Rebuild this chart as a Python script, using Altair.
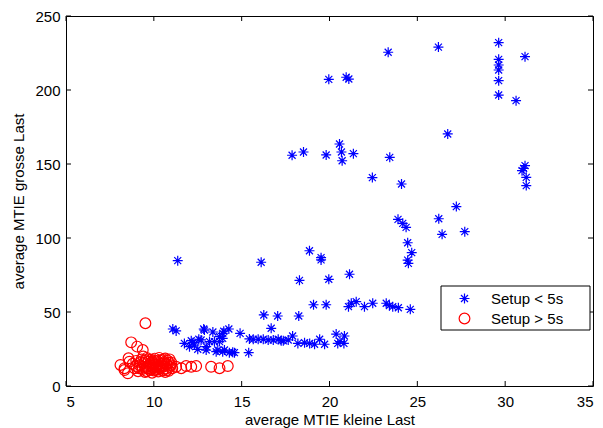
import altair as alt
import pandas as pd

# Setup < 5s (blue asterisks)
blue_x = [29.63, 31.13, 29.63, 29.63, 29.63, 29.63, 29.63, 30.62, 23.34, 26.2,
          19.96, 20.95, 21.1, 26.73, 17.87, 18.52, 19.81, 20.57, 20.68, 20.72,
          21.36, 23.43, 22.44, 24.1, 31.13, 30.96, 31.05, 31.2, 31.2, 27.22,
          26.22, 23.9, 24.17, 24.36, 26.41, 27.7, 24.45, 24.68, 24.49, 24.45,
          18.86, 19.52, 19.52,
          11.36, 16.11, 18.29, 19.96, 21.14, 19.09, 19.81, 21.08, 21.24, 21.52,
          21.99, 22.46, 23.23, 23.41, 23.6, 23.92, 24.6, 16.26, 17.05, 18.25,
          11.08, 11.27, 12.84, 12.88, 13.36, 13.92, 13.98, 14.27, 14.91, 16.68,
          11.74, 12.13, 12.22, 12.56, 12.69, 13.17, 13.45, 13.74, 13.92, 13.74,
          12.03, 12.31, 12.5, 12.98, 12.98, 13.55, 13.64, 13.92, 14.02, 14.3,
          14.49, 14.59, 15.4,
          15.44, 15.66, 15.94, 16.23, 16.51, 16.8, 17.08, 17.25, 17.37, 17.65,
          17.9, 18.2, 18.58, 18.87, 19.15, 19.44, 19.72, 20.38, 20.85, 20.47,
          20.82, 20.6]
blue_y = [232, 222.5, 220.7, 216.9, 213.5, 206.3, 196.6, 192.8, 225.5, 229,
          207.2, 208.6, 207.4, 170.3, 155.9, 158.1, 156.1, 163.5, 158.1, 152.2,
          157, 154.5, 140.8, 136.5, 148.9, 145.5, 147, 141, 135.4, 121.2,
          113, 112.6, 109.9, 107.2, 102.5, 104.3, 96.8, 90.1, 82.9, 85,
          91.4, 86.7, 85.2,
          84.7, 83.6, 71.4, 72.1, 75.5, 54.9, 54.9, 53.6, 55.9, 57,
          53.6, 55.9, 55.9, 54.3, 53.6, 52.9, 51.8, 48, 47.3, 47.3,
          38.5, 37.2, 38.5, 37.8, 36.5, 35.6, 37, 38.5, 35.6, 39,
          28.8, 30.6, 29.3, 31.6, 31.1, 30, 30, 30, 32.2, 33.3,
          26.6, 27.7, 24.8, 24.3, 26.6, 23.2, 24.3, 23.2, 24.3, 22.5,
          22.8, 22.5, 22.5,
          31.8, 31.6, 31.6, 31.6, 31.1, 31.1, 31.6, 30.6, 30.6, 31.1,
          33.8, 28.8, 29.2, 28.8, 28.2, 31.6, 28.2, 35.1, 33.8, 28.8,
          28.8, 30]

# Setup > 5s (red circles)
red_x = [9.52, 8.71, 9.05, 8.56, 8.1, 8.33, 8.33, 8.52, 8.61, 9.37,
         8.8, 8.9, 9.0, 9.1, 9.2, 9.3, 9.35, 9.45, 9.5, 9.55,
         9.6, 9.7, 9.75, 9.8, 9.85, 9.9, 9.95, 10.0, 10.05, 10.1,
         10.15, 10.2, 10.25, 10.3, 10.35, 10.4, 10.45, 10.5, 10.55, 10.6,
         10.65, 10.7, 10.75, 10.8, 10.85, 10.9, 11.0, 11.05, 9.4, 9.0,
         10.0, 10.9,
         9.25, 9.5, 9.65, 9.9, 10.1, 10.3, 10.5, 10.7, 10.95, 9.35,
         9.6, 9.85, 10.05, 10.25, 10.45, 10.65, 10.85, 9.15, 9.7, 10.35,
         10.55, 9.95, 10.15, 10.75,
         11.27, 11.56, 11.84, 12.13, 12.41, 13.26, 13.74, 14.21]
red_y = [42.4, 29.5, 26.6, 18.7, 14.2, 10.8, 12, 8.6, 16.4, 24.3,
         15, 12, 17, 10, 14, 18, 11.5, 15.5, 9.5, 13,
         19, 16.5, 11, 14, 17.8, 9, 12.5, 15.5, 18.5, 11,
         13.8, 16.8, 9.8, 19, 12.2, 15, 17.5, 10.5, 13.5, 16,
         18.6, 11.8, 14.5, 17, 10.2, 13, 15.8, 12, 20, 13.5,
         10.5, 18,
         16, 17, 12, 16.2, 14.5, 17.5, 12.8, 15.2, 14, 13,
         10, 11.5, 17, 11.2, 14, 9.5, 15.8, 12, 18, 13.2,
         18, 14.8, 12.5, 10.8,
         13, 12, 13.5, 13, 13.5, 13, 12, 13.5]

series = ["Setup < 5s", "Setup > 5s"]
colors = ["#0000ff", "#ff0000"]
x_ticks = [5, 10, 15, 20, 25, 30, 35]
y_ticks = [0, 50, 100, 150, 200, 250]

ASTERISK = "M-1,0L1,0M0,-1L0,1M-0.7,-0.7L0.7,0.7M-0.7,0.7L0.7,-0.7"

df = pd.DataFrame({
    "x": blue_x + red_x,
    "y": blue_y + red_y,
    "grp": [series[0]] * len(blue_x) + [series[1]] * len(red_x),
})
xt = pd.DataFrame({"v": x_ticks})
yt = pd.DataFrame({"v": y_ticks})

W, H = 527, 370
FONT = "Liberation Sans"
FS = 15

xscale = alt.Scale(domain=[5, 35], nice=False, zero=False)
yscale = alt.Scale(domain=[0, 250], nice=False, zero=False)
XT = "average MTIE kleine Last"
YT = "average MTIE grosse Last"
xaxis = alt.Axis(values=x_ticks, ticks=False, tickSize=0, domain=False, grid=False,
                 labelPadding=8, titlePadding=3)
yaxis = alt.Axis(values=y_ticks, ticks=False, tickSize=0, domain=False, grid=False,
                 labelPadding=6, titlePadding=8)

# legend box (frame drawn behind the legend)
LX, LY, LW, LH = 375, 270, 149, 44
leg = alt.Legend(title=None, orient="none", legendX=LX, legendY=LY)

box = alt.Chart(xt).mark_rect(fill="white", stroke="black", strokeWidth=1).encode(
    x=alt.value(LX), x2=alt.value(LX + LW), y=alt.value(LY), y2=alt.value(LY + LH)
).transform_filter("datum.v == 5")

points = alt.Chart(df).mark_point(filled=False, strokeWidth=1.2, opacity=1).encode(
    x=alt.X("x:Q", scale=xscale, title=XT, axis=xaxis),
    y=alt.Y("y:Q", scale=yscale, title=YT, axis=yaxis),
    color=alt.Color("grp:N", scale=alt.Scale(domain=series, range=colors), legend=leg),
    shape=alt.Shape("grp:N", scale=alt.Scale(domain=series, range=[ASTERISK, "circle"]), legend=leg),
    size=alt.Size("grp:N", scale=alt.Scale(domain=series, range=[100, 115]), legend=None),
)

def xrule(y1, y2):
    return alt.Chart(xt).mark_rule(color="black", strokeWidth=1).encode(
        x=alt.X("v:Q", scale=xscale, axis=xaxis, title=XT),
        y=alt.value(y1), y2=alt.value(y2))

def yrule(x1, x2):
    return alt.Chart(yt).mark_rule(color="black", strokeWidth=1).encode(
        y=alt.Y("v:Q", scale=yscale, axis=yaxis, title=YT),
        x=alt.value(x1), x2=alt.value(x2))

chart = alt.layer(
    points, xrule(H, H - 5), xrule(0, 5), yrule(0, 5), yrule(W, W - 5), box
).properties(
    width=W, height=H,
    padding={"left": 58, "top": 8, "right": 2, "bottom": 42},
    autosize=alt.AutoSizeParams(type="none"),
).configure_view(
    stroke="black", strokeWidth=1
).configure_axis(
    labelFont=FONT, titleFont=FONT, labelFontSize=FS, titleFontSize=FS,
    labelColor="black", titleColor="black", titleFontWeight="normal",
).configure_legend(
    labelFont=FONT, labelFontSize=FS, labelColor="black",
    padding=5, cornerRadius=0,
    rowPadding=3, symbolOffset=11, labelOffset=19, symbolSize=90,
    symbolStrokeWidth=1.2,
)

chart.save("out.html", embed_options={"renderer": "svg", "actions": False})
